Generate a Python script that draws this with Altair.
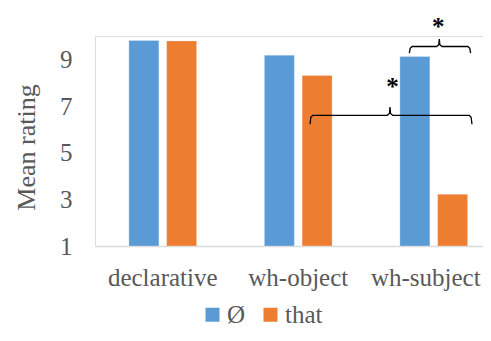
import altair as alt
import pandas as pd

# ---- data ----
categories = ["declarative", "wh-object", "wh-subject"]
series = ["Ø", "that"]
null_values = [9.81, 9.18, 9.12]
that_values = [9.79, 8.31, 3.22]
y_ticks = [1, 3, 5, 7, 9]

# significance brackets: x in category-index units (0..3), y in rating units
bracket_names = ["wh-object that vs wh-subject that", "wh-subject Ø vs that"]
bracket_x_start = [1.587, 2.320]
bracket_x_end = [2.782, 2.772]
bracket_x_peak = [2.177, 2.541]
bracket_level = [6.60, 9.55]
bracket_foot = [6.22, 9.27]
bracket_peak = [6.95, 9.87]
star_x = [2.195, 2.533]
star_y = [7.95, 10.50]

FONT = "Liberation Serif"
GREY = "#595959"
BLUE = "#5B9BD5"
ORANGE = "#ED7D31"
FS = 25

bars = pd.DataFrame({
    "category": categories * 2,
    "series": [series[0]] * 3 + [series[1]] * 3,
    "value": null_values + that_values,
})

rows = []
for i, name in enumerate(bracket_names):
    x0, x1, xp = bracket_x_start[i], bracket_x_end[i], bracket_x_peak[i]
    lv, ft, pk = bracket_level[i], bracket_foot[i], bracket_peak[i]
    e = 0.02
    pts = [(x0, ft), (x0 + e * 0.3, lv - 0.08), (x0 + e, lv),
           (xp - e, lv), (xp - e * 0.2, lv + 0.08), (xp, pk),
           (xp + e * 0.2, lv + 0.08), (xp + e, lv),
           (x1 - e, lv), (x1 - e * 0.3, lv - 0.08), (x1, ft)]
    for k, (px, py) in enumerate(pts):
        rows.append({"bracket": name, "order": k, "x": px, "y": py})
brackets = pd.DataFrame(rows)
stars = pd.DataFrame({"x": star_x, "y": star_y, "t": ["*", "*"]})

yscale = alt.Scale(domain=[1, 10], nice=False, zero=False)

bar_layer = alt.Chart(bars).mark_bar(stroke="white", strokeOpacity=0.35, strokeWidth=0.8).encode(
    x=alt.X("category:N", sort=categories,
            scale=alt.Scale(paddingInner=0.5, paddingOuter=0.25),
            axis=alt.Axis(title=None, labelAngle=0, ticks=False, tickSize=0,
                          domainColor="#D9D9D9", domainWidth=1.5,
                          labelFont=FONT, labelFontSize=FS, labelColor=GREY,
                          labelPadding=19,
                          labelOffset=alt.condition("datum.value == 'wh-subject'",
                                                    alt.value(-8), alt.value(0)))),
    xOffset=alt.XOffset("series:N", sort=series,
                        scale=alt.Scale(paddingInner=0.205, paddingOuter=0)),
    y=alt.Y("value:Q", scale=yscale,
            axis=alt.Axis(title="Mean rating", values=y_ticks, grid=False, domain=False,
                          ticks=False, tickSize=0, labelFont=FONT, labelFontSize=FS,
                          labelColor=GREY, labelPadding=23,
                          titleFont=FONT, titleFontSize=26, titleColor=GREY,
                          titleFontWeight="normal", titleAngle=270,
                          titleBaseline="middle", titleX=-69, titleY=111)),
    y2=alt.datum(1),
    color=alt.Color("series:N", sort=series,
                    scale=alt.Scale(domain=series, range=[BLUE, ORANGE]),
                    legend=alt.Legend(title=None, orient="none", direction="horizontal",
                                      legendX=105, legendY=266, symbolType="square",
                                      symbolSize=196, symbolStrokeWidth=0,
                                      labelFont=FONT, labelFontSize=FS, labelColor=GREY,
                                      labelOffset=2, columnPadding=12, padding=0)),
)

ann_x = alt.Scale(domain=[0, 3], nice=False, zero=False)

bracket_layer = alt.Chart(brackets).mark_line(color="black", strokeWidth=1.3).encode(
    x=alt.X("x:Q", scale=ann_x, axis=None),
    y=alt.Y("y:Q", scale=yscale),
    detail="bracket:N",
    order="order:Q",
)

star_layer = alt.Chart(stars).mark_text(font=FONT, fontSize=25, fontWeight="bold",
                                        color="black", baseline="alphabetic", dy=11).encode(
    x=alt.X("x:Q", scale=ann_x, axis=None),
    y=alt.Y("y:Q", scale=yscale),
    text="t:N",
)

chart = alt.layer(bar_layer, bracket_layer, star_layer).resolve_scale(
    x="independent"
).properties(
    width=406.5, height=210,
    autosize=alt.AutoSizeParams(type="none"),
    padding={"left": 87, "top": 28, "right": -18.5, "bottom": 83},
).configure_view(stroke=None).configure(background="white")

chart.save("out.html", embed_options={"renderer": "svg", "actions": False})
